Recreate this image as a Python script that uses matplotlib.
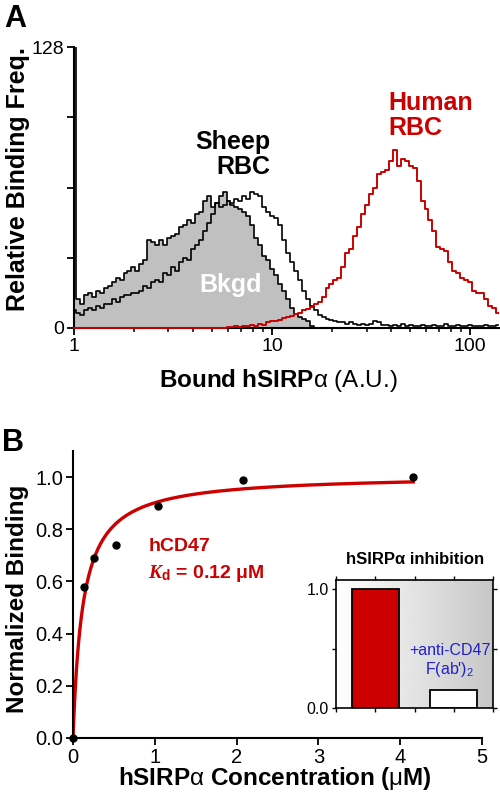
import matplotlib
matplotlib.use('Agg')
import matplotlib.pyplot as plt
import numpy as np

plt.rcParams['font.family'] = ['Liberation Sans', 'DejaVu Sans']
plt.rcParams['mathtext.fontset'] = 'custom'
plt.rcParams['mathtext.rm'] = 'Liberation Sans'
plt.rcParams['mathtext.bf'] = 'Liberation Sans:bold'
plt.rcParams['mathtext.it'] = 'Liberation Serif:italic'
plt.rcParams['mathtext.bfit'] = 'Liberation Serif:bold:italic'

# ---- panel A : flow histograms (log channels, 0.02 decade each) ----
channels = np.logspace(0, 2.14, 108)

bkgd_counts = [130, 13, 11, 15, 16, 14, 17, 16, 18, 19,
               21, 23, 22, 25, 26, 28, 26, 29, 31, 40,
               39, 38, 40, 38, 41, 42, 43, 46, 47, 49,
               48, 52, 53, 58, 60, 55, 57, 60, 62, 58,
               56, 55, 54, 53, 51, 47, 41, 38, 33, 31,
               27, 24, 20, 17, 13, 9, 6.5, 5, 4, 3,
               1] + [0] * 47

sheep_counts = [8, 7, 6, 8, 9, 8, 10, 9, 11, 11,
                13, 12, 14, 15, 15, 16, 16, 17, 19, 18,
                21, 22, 21, 25, 24, 28, 26, 30, 32, 31,
                36, 38, 40, 44, 48, 52, 57, 55, 56, 58,
                57, 59, 58, 60, 59, 62, 61, 60, 55, 53,
                51, 50, 47, 40, 34, 30, 26, 22, 17, 13,
                10, 8, 6, 5, 4, 3.5, 3, 2.5, 2.5, 2,
                2.5, 2, 1.5, 2, 1.5, 2, 3, 2.5, 1.5, 1.5,
                1, 1.5, 1, 2, 1, 1.5, 1, 1, 1.5, 1,
                1, 1.5, 1, 1, 2, 1, 1, 1.5, 1, 1,
                1.5, 1, 1, 1, 1.5, 1, 1, 1.5]

human_counts = [0] * 39 + [0.5, 0.5, 1, 0.5, 1, 1, 1.5, 1, 2, 1.5, 2.5,
                           3, 3, 3.6, 4.5, 5, 5.5, 6.5, 7, 8, 8.5,
                           9.6, 11, 12, 14, 18, 20, 22, 23, 28, 34,
                           36, 42, 46, 52, 56, 61, 64, 70, 71, 72,
                           76, 81, 74, 77, 76, 74, 73, 67, 58, 54,
                           49, 44, 37, 36, 35, 30, 26, 25, 23, 22,
                           21, 17, 16, 16, 13, 10, 9, 7]

# ---- panel B : binding curve ----
conc_uM = [0, 0.13, 0.26, 0.52, 1.04, 2.08, 4.16]
norm_binding = [0, 0.58, 0.69, 0.74, 0.89, 0.99, 1.00]
Kd = 0.12
Bmax = 1.01

inhib_groups = ['hCD47', '+anti-CD47']
inhib_values = [1.0, 0.15]

red = '#cc0000'

fig = plt.figure(figsize=(5, 7.98), dpi=100)

# panel A
axA = fig.add_axes([0.148, 0.589, 0.85, 0.352])
axA.fill_between(channels, bkgd_counts, step='mid', color='#c0c0c0', lw=0)
axA.step(channels, bkgd_counts, where='mid', color='black', lw=1.2)
axA.step(channels, sheep_counts, where='mid', color='black', lw=1.2)
axA.step(channels, human_counts, where='mid', color=red, lw=1.4, zorder=3, clip_on=False)
axA.set_xscale('log')
axA.set_xlim(1, 140)
axA.set_ylim(0, 128)
axA.set_yticks([0, 32, 64, 96, 128])
axA.set_yticklabels(['0', '', '', '', '128'])
axA.set_xticks([1, 10, 100])
axA.set_xticklabels(['1', '10', '100'])
for s in ['top', 'right']:
    axA.spines[s].set_visible(False)
for s in ['left', 'bottom']:
    axA.spines[s].set_linewidth(1.5)
axA.tick_params(which='major', length=5, width=1.3, labelsize=14, pad=2)
axA.tick_params(which='minor', length=3, width=1.1)
axA.text(9.8, 79, 'Sheep\nRBC', ha='right', va='center', fontsize=18,
         fontweight='bold', multialignment='right', linespacing=1.05)
axA.text(38.5, 97, 'Human\nRBC', ha='left', va='center', fontsize=18,
         fontweight='bold', color=red, linespacing=1.05)
axA.text(6.15, 19.6, 'Bkgd', ha='center', va='center', fontsize=18,
         fontweight='bold', color='white')

fig.text(0.036, 1 - 179 / 798, 'Relative Binding Freq.', rotation=90,
         ha='center', va='center', fontsize=18, fontweight='bold')
fig.text(278 / 500, 1 - 380 / 798, r'$\mathbf{Bound\ hSIRP}$α (A.U.)',
         ha='center', va='center', fontsize=17.5)
fig.text(0.008, 1 - 4 / 798, 'A', ha='left', va='top', fontsize=22, fontweight='bold')

# panel B
axB = fig.add_axes([0.146, 0.0752, 0.818, 0.3596])
xfit = np.linspace(0, conc_uM[-1], 300)
axB.plot(xfit, Bmax * xfit / (Kd + xfit), color=red, lw=2.4, zorder=2)
axB.plot(conc_uM, norm_binding, 'o', color='black', ms=5, zorder=3, clip_on=False)
axB.set_xlim(0, 5)
axB.set_ylim(0, 1.1)
axB.set_xticks([0, 1, 2, 3, 4, 5])
axB.set_yticks([0, 0.2, 0.4, 0.6, 0.8, 1.0])
axB.set_yticklabels(['0.0', '0.2', '0.4', '0.6', '0.8', '1.0'])
for s in ['top', 'right']:
    axB.spines[s].set_visible(False)
for s in ['left', 'bottom']:
    axB.spines[s].set_linewidth(1.5)
axB.tick_params(length=5, width=1.3, labelsize=14.5, pad=2)
axB.text(0.92, 0.735, 'hCD47', color=red, fontsize=14, fontweight='bold',
         ha='left', va='center')
axB.text(0.92, 0.63, r'$\mathbfit{K}_\mathbf{d}$ = 0.12 μM', color=red, fontsize=14,
         fontweight='bold', ha='left', va='center')

fig.text(0.036, 1 - 599 / 798, 'Normalized Binding', rotation=90,
         ha='center', va='center', fontsize=17.5, fontweight='bold')
fig.text(275 / 500, 1 - 779 / 798, r'$\mathbf{hSIRP}$α $\mathbf{Concentration\ (}$μ$\mathbf{M)}$',
         ha='center', va='center', fontsize=17.5)
fig.text(0.004, 1 - 428 / 798, 'B', ha='left', va='top', fontsize=22, fontweight='bold')

# inset
axI = fig.add_axes([0.672, 0.1128, 0.314, 0.1604])
grad = np.linspace(1.0, 0.78, 256).reshape(1, -1)
axI.imshow(grad, cmap='gray', vmin=0, vmax=1, aspect='auto',
           extent=[0.5, 2.5, 0, 1.08], zorder=0)
axI.bar([1, 2], inhib_values, width=0.6, color=[red, 'white'],
        edgecolor='black', lw=1.3, zorder=2)
axI.set_xlim(0.5, 2.5)
axI.set_ylim(0, 1.08)
axI.set_xticks([0.5, 1, 1.5, 2, 2.5])
axI.set_xticklabels([])
axI.set_yticks([0, 0.5, 1.0])
axI.set_yticklabels(['0.0', '', '1.0'])
axI.tick_params(labelsize=11.5, length=3, width=1, top=True, right=True, pad=2)
for s in axI.spines.values():
    s.set_linewidth(1.2)
axI.text(1.95, 0.395, '+anti-CD47\nF(ab\')$_2$', color='#2020c8', fontsize=11.5,
         ha='center', va='center', clip_on=False, linespacing=1.1)
fig.text(415 / 500, 1 - 560 / 798, 'hSIRPα inhibition', ha='center', va='center',
         fontsize=12, fontweight='bold')

fig.savefig('out.png', dpi=100, facecolor='white')
